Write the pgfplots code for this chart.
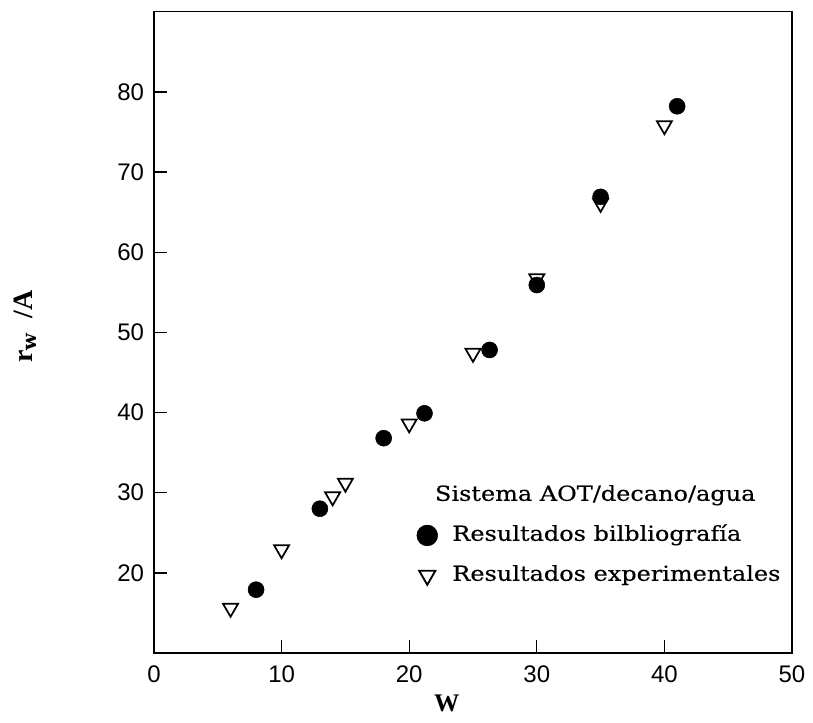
\documentclass[border=0pt]{standalone}
\usepackage{pgfplots}
\pgfplotsset{compat=1.18}
\usepackage{fontspec}
\setmainfont{DejaVu Serif}
\setsansfont{Liberation Sans}
\newfontfamily\labfont{Liberation Serif}
\newfontfamily\legfont[FakeStretch=1.16, FakeBold=0.4]{DejaVu Serif}
\usetikzlibrary{calc}
\begin{document}
\begin{tikzpicture}
\begin{axis}[
  scale only axis,
  width=478.5pt, height=481pt,
  xmin=0, xmax=50, ymin=10, ymax=90,
  xtick={0,10,...,50}, ytick={20,30,...,80},
  tick pos=left, tick align=inside,
  major tick length=9.5pt,
  every tick/.style={line width=1pt, black},
  axis line style={line width=1.2pt},
  /pgf/number format/assume math mode=true,
  ticklabel style={font=\sffamily\fontsize{18}{18}\selectfont},
  xticklabel style={yshift=-6pt},
  yticklabel style={xshift=-4pt},
  xlabel={\labfont\bfseries\fontsize{19}{19}\selectfont W},
  xlabel style={at={(rel axis cs:0.459,0)}, anchor=base, yshift=-44pt},
  ylabel={\labfont\bfseries\fontsize{21}{21}\selectfont r$_{\mathbf{w}}$\ \ /A},
  ylabel style={at={(rel axis cs:-0.19,0.509)}, anchor=base},
  legend style={draw=none, fill=none, at={(axis cs:20.19,31.6)}, anchor=north west,
    font=\legfont\fontsize{15.5}{15.5}\selectfont, row sep=11pt, column sep=9pt,
    nodes={inner sep=2pt, text height=11.5pt, text depth=3.5pt}},
  legend cell align=left,
]
\addplot[only marks, mark=triangle, mark size=6.5pt,
  mark options={rotate=180, fill=white, draw=black, line width=1.3pt}, forget plot]
  coordinates {(6,15.6) (10,22.9) (14,29.5) (15,31.2) (20,38.6) (25,47.4) (30,56.7) (35,66.1) (40,75.8)};
\addplot[only marks, mark=*, mark size=6pt, mark options={fill=black, draw=black}, forget plot]
  coordinates {(8,17.9) (13,28.0) (18,36.8) (21.2,39.9) (26.3,47.8) (30,55.9) (35,66.9) (41,78.2)};
\addlegendimage{empty legend}
\addlegendentry{\hspace*{-13pt}Sistema AOT/decano/agua}
\addlegendimage{only marks, mark=*, mark size=7.8pt, mark options={fill=black, draw=black}}
\addlegendentry{Resultados bilbliografía}
\addlegendimage{only marks, mark=triangle, mark size=7pt, mark options={rotate=180, fill=white, draw=black, line width=1.4pt}}
\addlegendentry{Resultados experimentales}
\end{axis}
\pgfresetboundingbox
\path[use as bounding box] ($(current axis.south west)+(-115.5pt,-51.75pt)$) rectangle ($(current axis.south west)+(494.25pt,489.75pt)$);
\end{tikzpicture}
\end{document}
